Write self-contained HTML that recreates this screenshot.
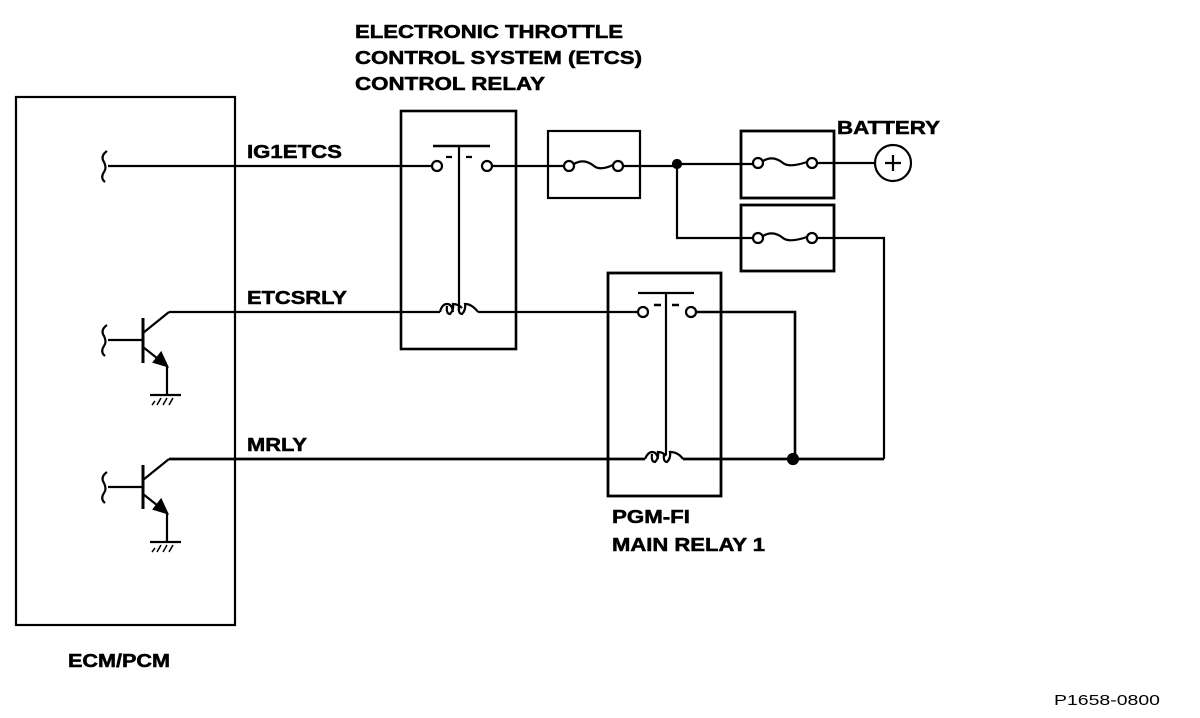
<!DOCTYPE html>
<html><head><meta charset="utf-8"><style>
html,body{margin:0;padding:0;background:#fff;}
svg{display:block;}
text{font-family:"Liberation Sans",Arial,sans-serif;font-weight:bold;fill:#000;}
</style></head><body>
<svg width="1200" height="718" viewBox="0 0 1200 718" xmlns="http://www.w3.org/2000/svg">
<g fill="none" stroke="#000" stroke-width="2.2">
<rect x="16" y="97" width="219" height="528"/>
<rect x="401" y="111" width="115" height="238" stroke-width="2.6"/>
<rect x="608" y="273" width="113" height="223" stroke-width="2.8"/>
<rect x="548" y="131" width="92" height="67"/>
<rect x="741" y="131" width="93" height="67" stroke-width="2.8"/>
<rect x="741" y="205" width="93" height="66" stroke-width="2.8"/>

<path d="M108 166 H432"/>
<path d="M107 151 Q100 156 104 162 Q107 168 104 172 Q100 178 105 182"/>
<circle cx="437" cy="166" r="5"/>
<circle cx="487" cy="166" r="5"/>
<path d="M433 146 H490" stroke-width="2.6"/>
<path d="M446 157 H452 M466 157 H472"/>
<path d="M459 146 V310"/>
<path d="M492 166 H564"/>
<circle cx="569" cy="166" r="5"/>
<circle cx="618" cy="166" r="5"/>
<path d="M574 164 Q584 158 594 166 Q600 171 613 165"/>
<path d="M623 166 H677"/>
<circle cx="677" cy="164" r="4" fill="#000"/>
<path d="M677 164 H753"/>
<circle cx="758" cy="163" r="5"/>
<circle cx="812" cy="163" r="5"/>
<path d="M763 161 Q773 155 783 163 Q789 168 807 162"/>
<path d="M817 163 H875"/>
<circle cx="893" cy="163" r="18"/>
<path d="M885 163 H901 M893 155 V171"/>
<path d="M677 164 V238 H753"/>
<circle cx="758" cy="238" r="5"/>
<circle cx="812" cy="238" r="5"/>
<path d="M763 236 Q773 230 783 238 Q789 243 807 237"/>
<path d="M817 238 H884 V459"/>

<path d="M169 312 H440"/>
<path d="M440 312 Q442 304 447 304 Q452 304 453 312 M447 306 Q446 314 450 314 Q454 310 453 304 Q458 304 462 308 M459 306 Q458 314 462 314 Q466 310 465 304 Q472 304 478 312"/>
<path d="M478 312 H638"/>
<path d="M107 325 Q100 330 104 336 Q107 342 104 346 Q100 352 105 356"/>
<path d="M108 340 H143"/>
<path d="M143 318 V363" stroke-width="3"/>
<path d="M143 333 L169 312"/>
<path d="M143 347 L167 366 V395"/>
<polygon points="167,366 154,362 161,353" fill="#000"/>
<path d="M150 395 H181"/>
<path d="M155 401 L152 405 M161 398 L157 405 M167 398 L163 405 M173 398 L169 405" stroke-width="1.5"/>

<circle cx="643" cy="312" r="5"/>
<circle cx="691" cy="312" r="5"/>
<path d="M638 293 H694"/>
<path d="M654 305 H661 M672 305 H679" stroke-width="2.5"/>
<path d="M666 293 V455"/>
<path d="M696 312 H795 V459" stroke-width="2.6"/>

<path d="M169 459 H645" stroke-width="2.8"/>
<path d="M645 459 Q648 452 652 452 Q657 452 658 459 M652 454 Q651 462 655 462 Q659 458 658 452 Q663 452 666 456 M664 454 Q663 462 667 462 Q671 458 670 452 Q678 452 683 459"/>
<path d="M683 459 H884" stroke-width="2.8"/>
<circle cx="793" cy="459" r="5" fill="#000"/>
<path d="M107 472 Q100 477 104 483 Q107 489 104 493 Q100 499 105 503"/>
<path d="M108 487 H143"/>
<path d="M143 465 V509" stroke-width="3"/>
<path d="M143 480 L169 459"/>
<path d="M143 494 L167 513 V542"/>
<polygon points="167,513 154,509 161,500" fill="#000"/>
<path d="M150 542 H181"/>
<path d="M155 548 L152 552 M161 545 L157 552 M167 545 L163 552 M173 545 L169 552" stroke-width="1.5"/>
</g>

<g font-size="18" stroke="#000" stroke-width="0.5">
<text x="355" y="38" textLength="268" lengthAdjust="spacingAndGlyphs">ELECTRONIC THROTTLE</text>
<text x="355" y="64" textLength="287" lengthAdjust="spacingAndGlyphs">CONTROL SYSTEM (ETCS)</text>
<text x="355" y="90" textLength="190" lengthAdjust="spacingAndGlyphs">CONTROL RELAY</text>
<text x="247" y="158" textLength="95" lengthAdjust="spacingAndGlyphs">IG1ETCS</text>
<text x="247" y="304" textLength="100" lengthAdjust="spacingAndGlyphs">ETCSRLY</text>
<text x="247" y="451" textLength="60" lengthAdjust="spacingAndGlyphs">MRLY</text>
<text x="837" y="134" textLength="103" lengthAdjust="spacingAndGlyphs">BATTERY</text>
<text x="612" y="523" textLength="78" lengthAdjust="spacingAndGlyphs">PGM-FI</text>
<text x="612" y="551" textLength="153" lengthAdjust="spacingAndGlyphs">MAIN RELAY 1</text>
<text x="68" y="667" textLength="102" lengthAdjust="spacingAndGlyphs">ECM/PCM</text>
</g>
<text x="1054" y="705" font-size="15" style="font-weight:normal" textLength="106" lengthAdjust="spacingAndGlyphs">P1658-0800</text>
</svg>
</body></html>
